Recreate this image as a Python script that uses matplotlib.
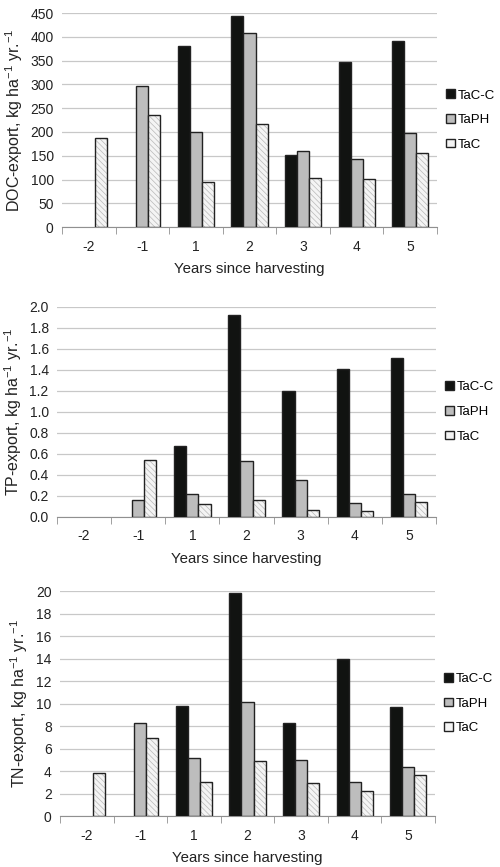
import numpy as np
import matplotlib
matplotlib.use("Agg")
import matplotlib.pyplot as plt
from matplotlib.ticker import FormatStrFormatter

plt.rcParams['font.family'] = ['Liberation Sans', 'DejaVu Sans']
plt.rcParams['mathtext.default'] = 'regular'
plt.rcParams['hatch.linewidth'] = 0.5

years = ['-2', '-1', '1', '2', '3', '4', '5']
series = ['TaC-C', 'TaPH', 'TaC']

doc_tacc = [np.nan, np.nan, 381, 444, 152, 346, 391]
doc_taph = [np.nan, 297, 201, 408, 160, 144, 198]
doc_tac = [188, 235, 95, 216, 104, 101, 156]

tp_tacc = [np.nan, np.nan, 0.68, 1.92, 1.20, 1.41, 1.51]
tp_taph = [np.nan, 0.16, 0.22, 0.53, 0.35, 0.13, 0.22]
tp_tac = [np.nan, 0.54, 0.12, 0.16, 0.07, 0.06, 0.14]

tn_tacc = [np.nan, np.nan, 9.75, 19.8, 8.27, 13.93, 9.7]
tn_taph = [np.nan, 8.3, 5.19, 10.15, 5.0, 3.05, 4.36]
tn_tac = [3.79, 6.9, 3.02, 4.89, 2.9, 2.19, 3.61]

colors = ['#111311', '#bdbdbd', '#f4f4f4']

fig = plt.figure(figsize=(5, 8.67), dpi=100)

panels = [
    ([0.124, 0.738, 0.750, 0.247], [doc_tacc, doc_taph, doc_tac], 450, 50, '%d',
     'DOC-export, kg ha$^{-1}$ yr.$^{-1}$'),
    ([0.114, 0.4037, 0.758, 0.2423], [tp_tacc, tp_taph, tp_tac], 2.0, 0.2, '%.1f',
     'TP-export, kg ha$^{-1}$ yr.$^{-1}$'),
    ([0.120, 0.0588, 0.750, 0.2595], [tn_tacc, tn_taph, tn_tac], 20, 2, '%d',
     'TN-export, kg ha$^{-1}$ yr.$^{-1}$'),
]

x = np.arange(len(years))
w = 0.225
for rect, data, ymax, step, fmt, ylab in panels:
    ax = fig.add_axes(rect)
    for k, vals in enumerate(data):
        xs = x + (k - 1) * w
        if k == 2:
            # light hatch first, dark outline on top
            ax.bar(xs, vals, w, color=colors[k], edgecolor='#b8b8b8',
                   linewidth=0, hatch='\\\\\\\\\\\\', zorder=3)
            ax.bar(xs, vals, w, fill=False, edgecolor='#222222',
                   linewidth=1.0, zorder=4)
            ax.bar([0], [np.nan], w, color=colors[k], edgecolor='#222222',
                   linewidth=1.0, label=series[k])
        else:
            ax.bar(xs, vals, w, color=colors[k], edgecolor='#222222',
                   linewidth=1.0, label=series[k], zorder=3)
    ax.set_xlim(-0.5, len(years) - 0.5)
    ax.set_ylim(0, ymax)
    ax.set_yticks(np.arange(0, ymax + step / 2, step))
    ax.yaxis.set_major_formatter(FormatStrFormatter(fmt))
    ax.grid(axis='y', color='#c8c8c8', linewidth=0.9, zorder=0)
    for s in ['top', 'right', 'left']:
        ax.spines[s].set_visible(False)
    ax.spines['bottom'].set_color('#909090')
    ax.set_xticks(x)
    ax.set_xticklabels(years)
    ax.set_xticks(np.arange(-0.5, len(years)), minor=True)
    ax.tick_params(axis='x', which='major', length=0, pad=9, labelsize=10, colors='#222222')
    ax.tick_params(axis='x', which='minor', length=5, color='#909090')
    ax.tick_params(axis='y', length=0, pad=6, labelsize=10, colors='#222222')
    ax.set_xlabel('Years since harvesting', fontsize=10.8, color='#222222', labelpad=6)
    ax.set_ylabel(ylab, fontsize=11.5, color='#222222', labelpad=4)
    ax.legend(loc='center left', bbox_to_anchor=(1.0, 0.5), frameon=False,
              handlelength=0.65, handleheight=0.65, handletextpad=0.25,
              labelspacing=0.95, fontsize=9.5, borderaxespad=0.3)

fig.savefig('out.png', dpi=100)
